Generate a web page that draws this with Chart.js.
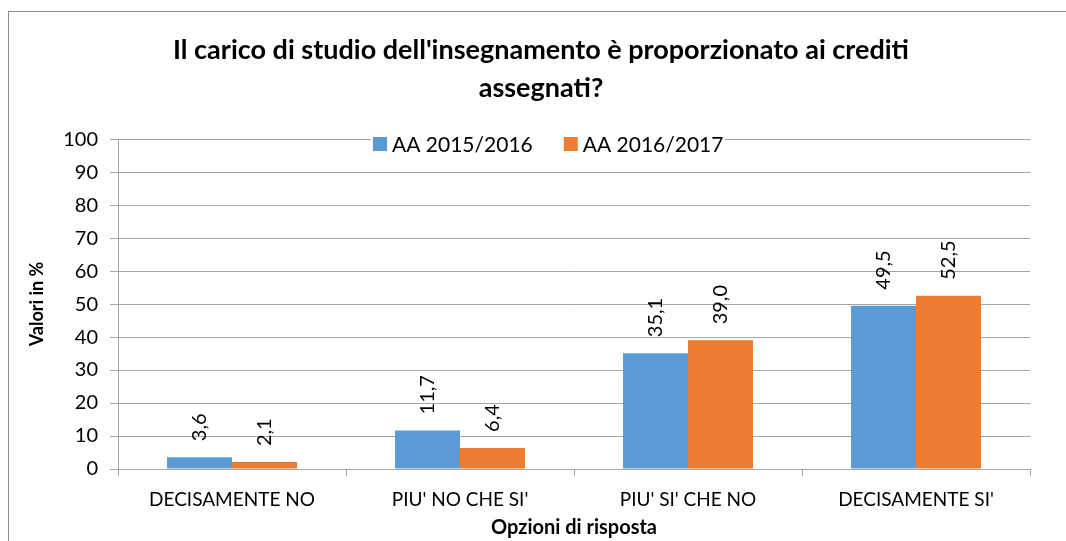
<!DOCTYPE html>
<html>
<head>
<meta charset="utf-8">
<script src="https://cdn.jsdelivr.net/npm/chart.js@4"></script>
<style>
  body { margin: 0; background: #fff; }
  #wrap { position: relative; width: 1066px; height: 541px; }
  #myChart { position: absolute; left: 0; top: 0; }
  #cornice { position: absolute; left: 8px; top: 11px; right: 0; bottom: 0;
             border-top: 1px solid #8e8e8e; border-left: 1px solid #8e8e8e; pointer-events: none; }
</style>
</head>
<body>
<div id="wrap">
  <canvas id="myChart" width="1066" height="541"></canvas>
  <div id="cornice"></div>
</div>
<script>
// dati
const categorie = ['DECISAMENTE NO', "PIU' NO CHE SI'", "PIU' SI' CHE NO", "DECISAMENTE SI'"];
const anni = ['AA 2015/2016', 'AA 2016/2017'];
const valori2015 = [3.6, 11.7, 35.1, 49.5];
const valori2016 = [2.1, 6.4, 39.0, 52.5];
const colori = ['#5b9bd5', '#ed7d31'];

const FONT = 'Lato';
const grigio = '#a6a6a6';

// etichette ruotate sopra le barre
const etichette = {
  id: 'etichette',
  afterDatasetsDraw(chart) {
    const ctx = chart.ctx;
    ctx.save();
    ctx.font = '20px ' + FONT;
    ctx.fillStyle = '#000';
    ctx.textAlign = 'left';
    ctx.textBaseline = 'middle';
    chart.data.datasets.forEach((ds, i) => {
      chart.getDatasetMeta(i).data.forEach((bar, j) => {
        ctx.save();
        ctx.translate(bar.x, bar.y - 16);
        ctx.rotate(-Math.PI / 2);
        ctx.fillText(ds.data[j].toFixed(1).replace('.', ','), 0, 0);
        ctx.restore();
      });
    });
    ctx.restore();
  }
};

// legenda dentro l'area del grafico, in alto
const legenda = {
  id: 'legenda',
  afterLayout(chart) {
    // titolo centrato come nell'originale
    chart.titleBlock.left = 52;
    chart.titleBlock.right = 1030;
    chart.titleBlock.width = 978;
  },
  afterDraw(chart) {
    const ctx = chart.ctx;
    ctx.save();
    ctx.font = '21px ' + FONT;
    ctx.textBaseline = 'middle';
    let x = 373;
    const y = 144;
    ctx.fillStyle = '#fff';
    ctx.fillRect(x - 2, y - 8, 354, 20);
    chart.data.datasets.forEach((ds) => {
      ctx.fillStyle = ds.backgroundColor;
      ctx.fillRect(x, y - 7, 14, 14);
      ctx.fillStyle = '#000';
      ctx.fillText(ds.label, x + 19, y + 1);
      x += 19 + ctx.measureText(ds.label).width + 31;
    });
    ctx.restore();
  }
};

var ctx1 = document.getElementById('myChart').getContext('2d');
var myChart = new Chart(ctx1, {
  type: 'bar',
  data: {
    labels: categorie,
    datasets: [{
      label: anni[0],
      data: valori2015,
      backgroundColor: colori[0]
    }, {
      label: anni[1],
      data: valori2016,
      backgroundColor: colori[1]
    }]
  },
  options: {
    responsive: false,
    animation: false,
    devicePixelRatio: 1,
    layout: { padding: { left: 0, right: 36, top: 0, bottom: 0 } },
    datasets: { bar: { barPercentage: 1, categoryPercentage: 0.57 } },
    plugins: {
      legend: { display: false },
      tooltip: { enabled: false },
      title: {
        display: true,
        text: ["Il carico di studio dell'insegnamento è proporzionato ai crediti", 'assegnati?'],
        color: '#000',
        font: { family: FONT, size: 27, weight: 'bold', lineHeight: 1.41 },
        padding: { top: 31, bottom: 32 }
      }
    },
    scales: {
      x: {
        afterFit(scale) { scale.height = 72; },
        grid: { display: true, drawOnChartArea: false, offset: true, tickLength: 7, color: grigio },
        border: { color: grigio },
        ticks: { color: '#000', font: { family: FONT, size: 19 }, padding: 12, maxRotation: 0 },
        title: {
          display: true,
          text: 'Opzioni di risposta',
          color: '#000',
          font: { family: FONT, size: 20, weight: 'bold' },
          padding: { top: 0, bottom: 1 }
        }
      },
      y: {
        min: 0,
        max: 100,
        afterFit(scale) { scale.width = 118; },
        grid: { color: grigio, tickLength: 8 },
        border: { color: grigio },
        ticks: { stepSize: 10, color: '#000', font: { family: FONT, size: 20 }, padding: 12 },
        title: {
          display: true,
          text: 'Valori in %',
          color: '#000',
          font: { family: FONT, size: 18, weight: 'bold' },
          padding: { top: 26, bottom: 0 }
        }
      }
    }
  },
  plugins: [etichette, legenda]
});
</script>
</body>
</html>
